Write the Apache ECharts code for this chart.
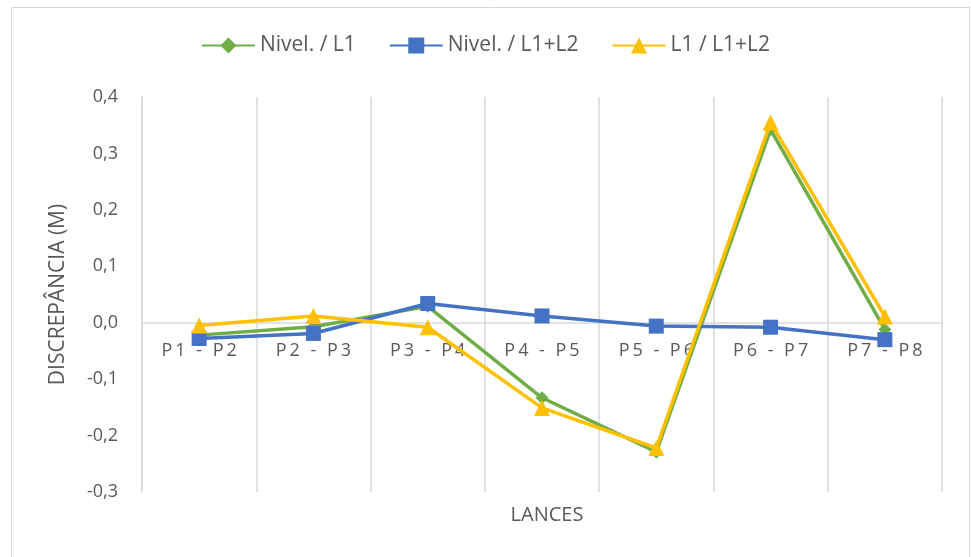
<!DOCTYPE html>
<html>
<head>
<meta charset="utf-8">
<script src="https://cdn.jsdelivr.net/npm/echarts@6/dist/echarts.min.js"></script>
<style>
  html, body { margin: 0; padding: 0; background: #fff; }
  #chart { width: 971px; height: 557px; }
</style>
</head>
<body>
<div id="chart"></div>
<script>
// Trecho entre pontos (lances)
const categories = ['P1 - P2', 'P2 - P3', 'P3 - P4', 'P4 - P5', 'P5 - P6', 'P6 - P7', 'P7 - P8'];

// Discrepâncias em metros
const nivelL1    = [-0.022, -0.007, 0.029, -0.133, -0.229, 0.342, -0.012];
const nivelL1L2  = [-0.028, -0.019, 0.034, 0.012, -0.006, -0.008, -0.030];
const l1L1L2     = [-0.005, 0.012, -0.008, -0.151, -0.222, 0.355, 0.011];

const yTicks = { min: -0.3, max: 0.4, interval: 0.1 };

const FONT = '"Open Sans", "Liberation Sans", sans-serif';
const TXT = '#595959';

const W = 971, H = 557;
const gridBox = { left: 142, right: 29, top: 97, bottom: 65 };
const plotH = H - gridBox.top - gridBox.bottom;
// lift the category axis so it sits on the zero line
const zeroOffset = -plotH * (0 - yTicks.min) / (yTicks.max - yTicks.min);

const chart = echarts.init(document.getElementById('chart'), null, { renderer: 'canvas' });

function spaced(s) {
  return s.split('').join('\u2009');
}

chart.setOption({
  animation: false,
  backgroundColor: '#fff',
  textStyle: { fontFamily: FONT },
  legend: {
    top: 30,
    left: 'center',
    itemWidth: 53,
    itemHeight: 20,
    itemGap: 33,
    textStyle: { fontFamily: FONT, fontSize: 21, color: TXT },
    data: ['Nivel. / L1', 'Nivel. / L1+L2', 'L1 / L1+L2']
  },
  title: {
    text: 'LANCES',
    left: 542,
    top: 500,
    textAlign: 'center',
    textStyle: { fontFamily: FONT, fontSize: 20, fontWeight: 'normal', color: TXT }
  },
  grid: gridBox,
  xAxis: {
    type: 'category',
    data: categories,
    boundaryGap: true,
    offset: zeroOffset,
    axisLine: { show: true, onZero: false, lineStyle: { color: '#d9d9d9', width: 1.5 } },
    axisTick: { show: false },
    splitLine: { show: true, lineStyle: { color: '#d9d9d9', width: 1.5 } },
    axisLabel: {
      fontFamily: FONT, fontSize: 18, color: TXT, margin: 19,
      formatter: spaced
    }
  },
  yAxis: {
    type: 'value',
    min: yTicks.min,
    max: yTicks.max,
    interval: yTicks.interval,
    name: 'DISCREPÂNCIA (M)',
    nameLocation: 'middle',
    nameGap: 73,
    nameTextStyle: { fontFamily: FONT, fontSize: 21, color: TXT },
    axisLine: { show: true, lineStyle: { color: '#d9d9d9', width: 1.5 } },
    axisTick: { show: false },
    splitLine: { show: false },
    axisLabel: {
      fontFamily: FONT, fontSize: 18, color: TXT, margin: 24,
      formatter: v => v.toFixed(1).replace('.', ',')
    }
  },
  graphic: [{
    type: 'rect',
    shape: { x: 11.5, y: 7.5, width: 958, height: 560 },
    style: { fill: 'none', stroke: '#d9d9d9', lineWidth: 1 },
    silent: true
  }],
  series: [
    {
      name: 'Nivel. / L1', type: 'line', data: nivelL1,
      symbol: 'diamond', symbolSize: 13,
      lineStyle: { color: '#70AD47', width: 3.5 },
      itemStyle: { color: '#70AD47' }, z: 2
    },
    {
      name: 'Nivel. / L1+L2', type: 'line', data: nivelL1L2,
      symbol: 'rect', symbolSize: 15,
      lineStyle: { color: '#4472C4', width: 3.5 },
      itemStyle: { color: '#4472C4' }, z: 3
    },
    {
      name: 'L1 / L1+L2', type: 'line', data: l1L1L2,
      symbol: 'triangle', symbolSize: 16,
      lineStyle: { color: '#FFC000', width: 3.5 },
      itemStyle: { color: '#FFC000' }, z: 4
    }
  ]
});
</script>
</body>
</html>
